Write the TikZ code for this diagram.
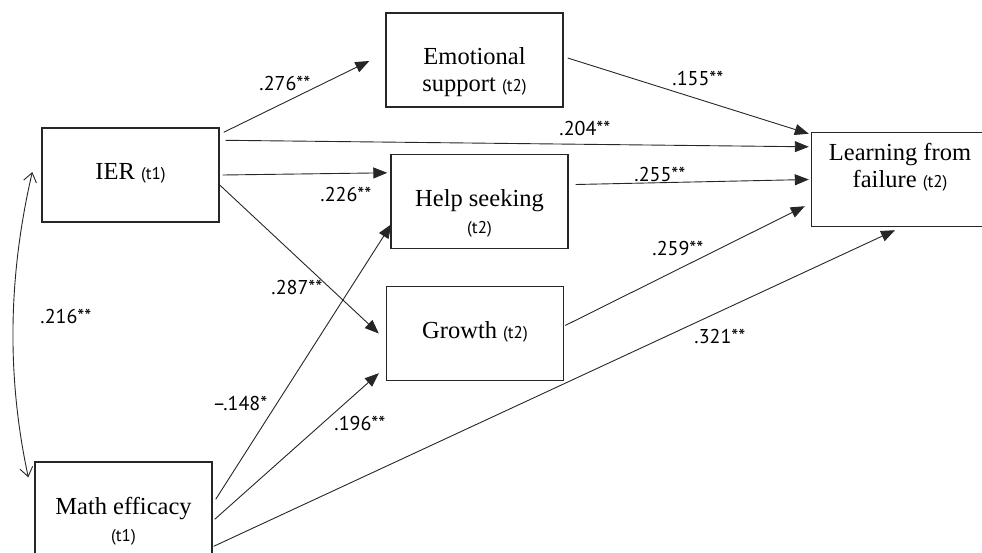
\documentclass[tikz,border=0pt]{standalone}
\usepackage{fontspec}
\setmainfont{Liberation Serif}
\setsansfont{PT Sans}
\usetikzlibrary{arrows.meta}
\newcommand{\wave}[1]{{\sffamily\fontsize{17}{18}\selectfont(#1)}}

\begin{document}
\begin{tikzpicture}[
        x=1pt, y=-1pt,
        varbox/.style={draw=black!85, line width=1.4pt, minimum width=177pt, minimum height=94pt, inner sep=0pt},
        vartext/.style={align=center, font=\fontsize{24.5}{27}\selectfont, inner sep=0pt},
        coef/.style={font=\sffamily\fontsize{20}{22}\selectfont, inner sep=0pt},
        effect/.style={draw=black!85, line width=0.9pt, -{Triangle[length=14pt,width=11pt]}},
        corr/.style={draw=black!85, line width=0.9pt, {Straight Barb[length=9pt,width=13pt]}-{Straight Barb[length=9pt,width=13pt]}}]

    \useasboundingbox (0,0) rectangle (982,552);
    \clip (0,0) rectangle (982,552);

    % variables
    \node [varbox] (ier) at (130.5,175) {};
    \node [varbox] (emo) at (474.5,60) {};
    \node [varbox] (help) at (479.5,201.5) {};
    \node [varbox] (growth) at (475,333.5) {};
    \node [varbox] (learn) at (900,179.5) {};
    \node [varbox] (math) at (123.5,509) {};

    \node [vartext] (ier-t) at (130.5,173) {IER \wave{t1}};
    \node [vartext] (emo-t) at (474.5,72) {Emotional\\support \wave{t2}};
    \node [vartext] (help-t) at (479.5,213) {Help seeking\\\wave{t2}};
    \node [vartext] (growth-t) at (475,332) {Growth \wave{t2}};
    \node [vartext] (learn-t) at (900,167) {Learning from\\failure \wave{t2}};
    \node [vartext] (math-t) at (123.5,521) {Math efficacy\\\wave{t1}};

    % paths
    \draw [effect] ([xshift=4pt,yshift=-5pt]ier.north east) -- ([xshift=-16pt,yshift=-1pt]emo.west);
    \draw [effect] ([xshift=6pt,yshift=-13pt]ier.north east) -- ([xshift=-2pt,yshift=-15pt]learn.north west);
    \draw [effect] ([xshift=3pt]ier.east) -- ([xshift=-3pt,yshift=-19pt]help.north west);
    \draw [effect] ([yshift=-10pt]ier.east) -- ([xshift=-7pt]growth.west);
    \draw [effect] ([xshift=3pt,yshift=-38pt]math.north east) -- ([xshift=1pt,yshift=25pt]help.south west);
    \draw [effect] ([xshift=2pt,yshift=-58pt]math.north east) -- ([xshift=-7pt,yshift=8pt]growth.south west);
    \draw [effect] ([xshift=1pt,yshift=-85pt]math.north east) -- ([xshift=-5pt,yshift=-3pt]learn.south);
    \draw [effect] ([xshift=4pt,yshift=2pt]emo.east) -- ([xshift=-2pt,yshift=-2pt]learn.north west);
    \draw [effect] ([xshift=7pt,yshift=17pt]help.east) -- ([xshift=-2pt]learn.west);
    \draw [effect] ([xshift=1pt,yshift=8pt]growth.east) -- ([xshift=-6pt,yshift=21pt]learn.south west);
    \draw [corr] ([xshift=-9pt,yshift=3pt]ier.west) .. controls +(-25,108) and +(-21,-98) .. ([xshift=-6pt,yshift=-16pt]math.north west);

    % coefficients
    \node [coef] (c-ier-emo) at (285,83) {.276**};
    \node [coef] (c-ier-learn) at (585,128) {.204**};
    \node [coef] (c-ier-help) at (346,194) {.226**};
    \node [coef] (c-ier-growth) at (297,287) {.287**};
    \node [coef] (c-emo-learn) at (698,78) {.155**};
    \node [coef] (c-help-learn) at (660,174) {.255**};
    \node [coef] (c-growth-learn) at (678,248) {.259**};
    \node [coef] (c-math-learn) at (720,336) {.321**};
    \node [coef] (c-math-help) at (240,403) {–.148*};
    \node [coef] (c-math-growth) at (360,423) {.196**};
    \node [coef] (c-ier-math) at (66,316) {.216**};
\end{tikzpicture}
\end{document}
